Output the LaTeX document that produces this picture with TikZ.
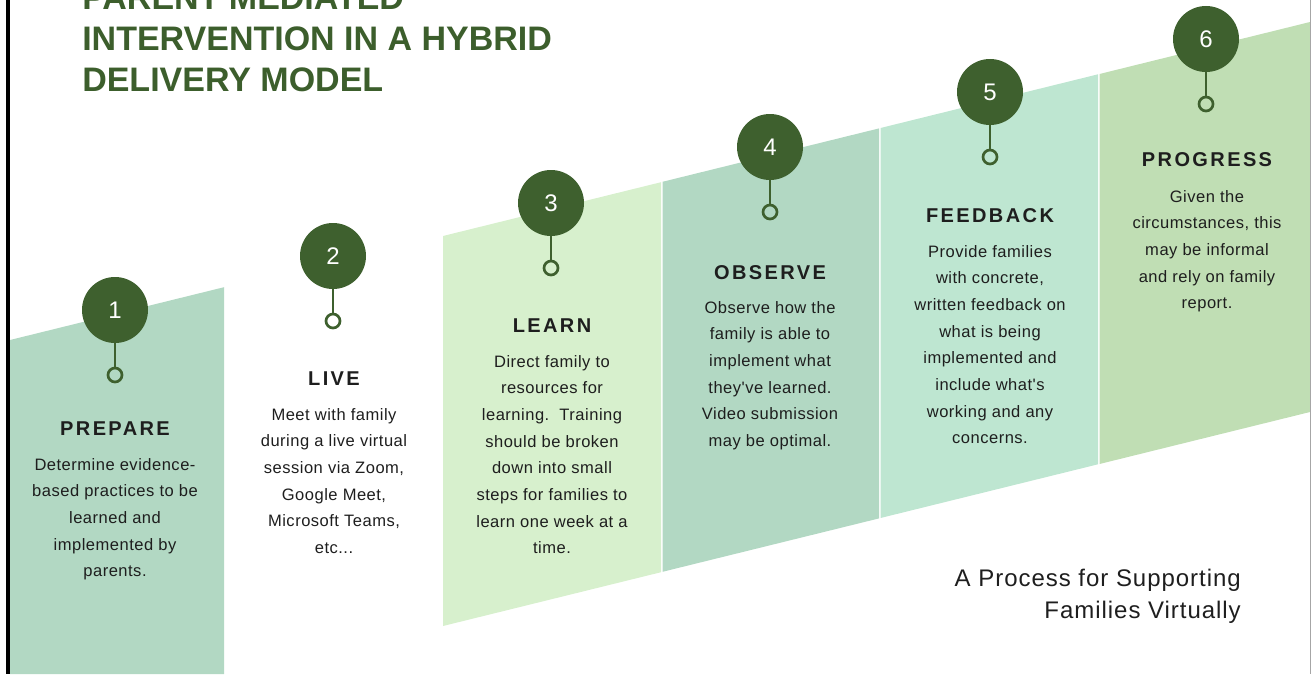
\documentclass[tikz,border=0pt]{standalone}
\usepackage{fontspec}
\setmainfont{Liberation Sans}
\newfontfamily\headfont[LetterSpace=12]{Liberation Sans}
\newfontfamily\bodyfont[LetterSpace=3]{Liberation Sans}
\newfontfamily\tagfont[LetterSpace=4]{Liberation Sans}

\definecolor{dkgreen}{RGB}{62,96,46}
\definecolor{titlegreen}{RGB}{60,94,44}
\definecolor{bandmint}{RGB}{178,216,195}
\definecolor{bandlight}{RGB}{215,240,205}
\definecolor{bandsea}{RGB}{190,230,209}
\definecolor{bandsage}{RGB}{192,222,180}
\definecolor{inkcol}{RGB}{30,30,30}

\begin{document}
% one unit = one pixel of a 1312 x 674 canvas, y pointing down;
% multi-line nodes are placed by the baseline of their last line
\begin{tikzpicture}[x=0.75pt,y=-0.75pt,
  numcircle/.style={circle,fill=dkgreen,minimum size=49.5pt,inner sep=0pt,
    text=white,font=\fontsize{18}{18}\selectfont},
  ring/.style={circle,draw=dkgreen,line width=2pt,minimum size=10.5pt,inner sep=0pt},
  stem/.style={draw=dkgreen,line width=2pt},
  heading/.style={anchor=base,inner sep=0pt,text=inkcol,
    font=\headfont\bfseries\fontsize{15}{15}\selectfont},
  body/.style={anchor=base,inner sep=0pt,align=center,text=inkcol,
    font=\bodyfont\fontsize{12.4}{20}\selectfont},
]
\useasboundingbox (0,0) rectangle (1312,674);
\def\lsk{26.667}

% coloured bands
\fill[bandmint]  (10,340) -- (224,287.2) -- (224,674) -- (10,674) -- cycle;
\fill[bandlight] (443,236) -- (661,182.2) -- (661,572.2) -- (443,626) -- cycle;
\fill[bandmint]  (662.5,181.8) -- (879,128.4) -- (879,518.4) -- (662.5,571.8) -- cycle;
\fill[bandsea]   (880.5,128.0) -- (1098,74.3) -- (1098,464.3) -- (880.5,518.0) -- cycle;
\fill[bandsage]  (1099.5,74.0) -- (1310,22.0) -- (1310,412.0) -- (1099.5,464.0) -- cycle;

% frame lines
\draw[black,line width=2.6pt] (8,0) -- (8,674);
\draw[black!35,line width=1pt] (1310.5,0) -- (1310.5,674);

% title
\node[anchor=base west,inner sep=0pt,align=left,text=titlegreen,
  font=\bfseries\fontsize{25.5}{30.75}\selectfont] (title) at (82,91)
  {PARENT MEDIATED\\INTERVENTION IN A HYBRID\\DELIVERY MODEL};

% step markers
\foreach \i/\x/\y in {1/115/310, 2/333/256, 3/551/203, 4/770/147, 5/990/92, 6/1206/39}{
  \node[numcircle] (n\i) at (\x,\y) {\i};
  \node[ring] (r\i) at (\x,\y+65) {};
  \draw[stem] (n\i) -- (r\i);
}

% step 1
\node[heading] (h1) at (115,435) {PREPARE};
\node[body] (b1) at (115,470+4*\lsk) {Determine evidence-\\based practices to be\\learned and\\implemented by\\parents.};
% step 2
\node[heading] (h2) at (334,385) {LIVE};
\node[body] (b2) at (334,420+5*\lsk) {Meet with family\\during a live virtual\\session via Zoom,\\Google Meet,\\Microsoft Teams,\\etc...};
% step 3
\node[heading] (h3) at (552,332) {LEARN};
\node[body] (b3) at (552,367+7*\lsk) {Direct family to\\resources for\\learning.\ \ Training\\should be broken\\down into small\\steps for families to\\learn one week at a\\time.};
% step 4
\node[heading] (h4) at (770,279) {OBSERVE};
\node[body] (b4) at (770,313+5*\lsk) {Observe how the\\family is able to\\implement what\\they've learned.\\Video submission\\may be optimal.};
% step 5
\node[heading] (h5) at (990,222) {FEEDBACK};
\node[body] (b5) at (990,257+7*\lsk) {Provide families\\with concrete,\\written feedback on\\what is being\\implemented and\\include what's\\working and any\\concerns.};
% step 6
\node[heading] (h6) at (1207,166) {PROGRESS};
\node[body] (b6) at (1207,202+4*\lsk) {Given the\\circumstances, this\\may be informal\\and rely on family\\report.};

% tagline
\node[anchor=base east,inner sep=0pt,align=right,text=inkcol,
  font=\tagfont\fontsize{18}{24}\selectfont] (tag) at (1241,618)
  {A Process for Supporting\\Families Virtually};
\end{tikzpicture}
\end{document}
